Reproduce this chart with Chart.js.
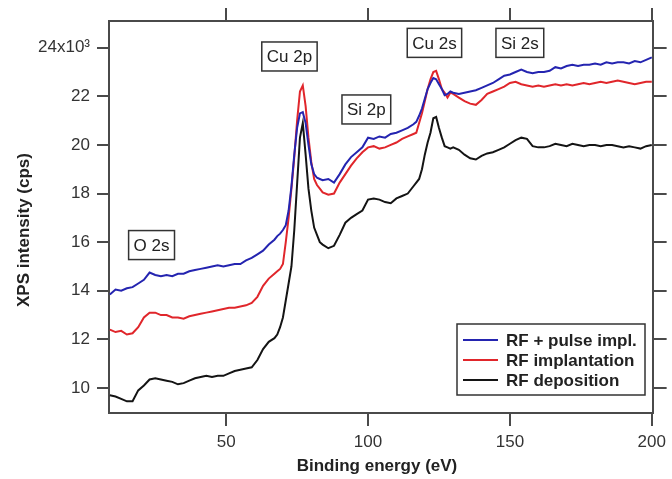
<!DOCTYPE html>
<html lang="en">
<head>
  <meta charset="UTF-8">
  <title>XPS spectra</title>
  <script src="https://cdn.jsdelivr.net/npm/chart.js"></script>
  <style>
    html, body { margin: 0; padding: 0; background: #fff; }
    #wrap { width: 672px; height: 479px; position: relative; }
  </style>
</head>
<body>
  <div id="wrap"><canvas id="xps"></canvas></div>

  <script>
    // binding energy (eV)
    const energy = [
      9, 11, 13, 15, 17, 19, 21, 23, 25, 27, 29, 31, 33, 35, 37, 39, 41, 43, 45, 47,
      49, 51, 53, 55, 57, 59, 61, 63, 65, 67,
      68, 69, 70, 71, 72, 73, 74, 75, 76, 77, 78, 79, 80, 81, 82, 83, 84,
      86, 88, 90, 92, 94, 96, 98, 100, 102, 104, 106, 108, 110, 112, 114, 116,
      117, 118, 119, 120, 121, 122, 123, 124, 125, 126, 127, 128, 129, 130,
      132, 134, 136, 138, 140, 142, 144, 146, 148, 150, 152, 154, 156, 158, 160, 162,
      164, 166, 168, 170, 172, 174, 176, 178, 180, 182, 184, 186, 188, 190, 192, 194,
      196, 198, 200
    ];

    // intensities in 10^3 cps
    const pulseImpl = [
      13.85, 14.05, 14.0, 14.1, 14.15, 14.3, 14.45, 14.75, 14.65, 14.6, 14.65, 14.6, 14.7, 14.7, 14.8, 14.85, 14.9, 14.95, 15.0, 15.05,
      15.0, 15.05, 15.1, 15.1, 15.25, 15.35, 15.5, 15.65, 15.9, 16.1,
      16.25, 16.35, 16.5, 16.7, 17.3, 18.3, 19.6, 20.7, 21.3, 21.35, 20.9, 20.0, 19.2, 18.8, 18.65, 18.6, 18.55,
      18.6, 18.45, 18.8, 19.2, 19.5, 19.7, 19.9, 20.3, 20.25, 20.35, 20.3, 20.45, 20.5, 20.6, 20.7, 20.85,
      20.95, 21.2, 21.5, 21.9, 22.3, 22.55, 22.75, 22.7, 22.5, 22.3, 22.05, 22.1, 22.2, 22.15,
      22.1, 22.15, 22.2, 22.25, 22.35, 22.45, 22.55, 22.7, 22.85, 22.9, 23.0, 23.1, 23.0, 22.95, 23.0, 23.0,
      23.05, 23.2, 23.15, 23.25, 23.3, 23.25, 23.3, 23.3, 23.35, 23.3, 23.4, 23.35, 23.4, 23.4, 23.35, 23.45,
      23.4, 23.5, 23.6
    ];
    const implantation = [
      12.4, 12.3, 12.35, 12.2, 12.25, 12.5, 12.9, 13.1, 13.1, 13.0, 13.0, 12.9, 12.9, 12.85, 12.95, 13.0, 13.05, 13.1, 13.15, 13.2,
      13.25, 13.3, 13.3, 13.35, 13.4, 13.5, 13.75, 14.2, 14.5, 14.7,
      14.8, 14.9, 15.1, 16.0, 17.0, 18.2, 19.5, 21.0, 22.2, 22.45, 21.6, 20.3, 19.3, 18.6, 18.35, 18.2, 18.05,
      17.95, 18.0, 18.45, 18.8, 19.15, 19.45, 19.7, 19.9, 19.95, 19.85, 19.9, 20.0, 20.1, 20.25, 20.35, 20.45,
      20.5, 20.9, 21.3, 21.8, 22.3, 22.7, 23.0, 23.05, 22.7, 22.3, 22.15, 21.95, 22.15, 22.1,
      21.95, 21.8, 21.7, 21.65, 21.85, 22.1, 22.2, 22.3, 22.4, 22.55, 22.6, 22.5, 22.45, 22.4, 22.45, 22.4,
      22.45, 22.5, 22.45, 22.5, 22.45, 22.5, 22.55, 22.5, 22.55, 22.6, 22.55, 22.6, 22.65, 22.6, 22.55, 22.5,
      22.55, 22.6, 22.6
    ];
    const deposition = [
      9.7, 9.65, 9.55, 9.45, 9.45, 9.9, 10.1, 10.35, 10.4, 10.35, 10.3, 10.25, 10.15, 10.2, 10.3, 10.4, 10.45, 10.5, 10.45, 10.5,
      10.5, 10.6, 10.7, 10.75, 10.8, 10.85, 11.15, 11.6, 11.9, 12.05,
      12.2, 12.5, 12.9, 13.6, 14.3, 15.0, 16.5, 18.4, 20.3, 20.9, 19.6, 18.2, 17.3, 16.6, 16.3, 16.0, 15.9,
      15.75, 15.85, 16.3, 16.8, 17.0, 17.15, 17.3, 17.75, 17.8, 17.75, 17.65, 17.6, 17.8, 17.9, 18.0, 18.3,
      18.45, 18.6, 19.0, 19.6, 20.1, 20.5, 21.1, 21.15, 20.7, 20.3, 19.95, 19.9, 19.85, 19.9,
      19.8, 19.6, 19.45, 19.4, 19.55, 19.65, 19.7, 19.8, 19.9, 20.05, 20.2, 20.3, 20.25, 19.95, 19.9, 19.9,
      19.95, 20.05, 20.0, 19.95, 20.05, 20.0, 19.95, 20.0, 20.0, 19.95, 20.0, 20.0, 19.95, 19.9, 19.95, 19.9,
      19.85, 19.95, 20.0
    ];

    const seriesNames = ['RF + pulse impl.', 'RF implantation', 'RF deposition'];
    const seriesColors = ['#2424b0', '#e0262b', '#141414'];

    const xTicks = [50, 100, 150, 200];
    const yTicks = [10, 12, 14, 16, 18, 20, 22, 24];

    // peak labels (placed in data coordinates)
    const peakLabels = ['O 2s', 'Cu 2p', 'Si 2p', 'Cu 2s', 'Si 2s'];
    const peakEnergy = [23.7, 72.3, 99.4, 123.4, 153.5];
    const peakLevel = [15.88, 23.64, 21.46, 24.2, 24.2];

    const FONT = "'Liberation Sans', Arial, sans-serif";
    const axisColor = '#4a4a4a';

    function pts(ys) {
      return energy.map((e, i) => ({ x: e, y: ys[i] }));
    }

    const allSeries = [pulseImpl, implantation, deposition];
    const datasets = allSeries.map((s, i) => ({
      label: seriesNames[i],
      data: pts(s),
      borderColor: seriesColors[i],
      borderWidth: 2,
      pointRadius: 0,
      tension: 0,
      fill: false
    }));

    const axisGrid = {
      drawOnChartArea: false,
      drawTicks: true,
      color: axisColor,
      lineWidth: 2
    };
    const axisBorder = { display: true, color: axisColor, width: 2 };

    // boxes, legend and axis titles
    const decor = {
      id: 'decor',
      afterDraw(chart) {
        const ctx = chart.ctx;
        const xs = chart.scales.x, ys = chart.scales.y;
        ctx.save();

        // peak label boxes
        ctx.font = '17px ' + FONT;
        ctx.textAlign = 'center';
        ctx.textBaseline = 'middle';
        peakLabels.forEach((t, i) => {
          const cx = xs.getPixelForValue(peakEnergy[i]);
          const cy = ys.getPixelForValue(peakLevel[i]);
          const w = ctx.measureText(t).width + 10;
          const h = 29;
          ctx.fillStyle = '#fff';
          ctx.fillRect(cx - w / 2, cy - h / 2, w, h);
          ctx.strokeStyle = '#333';
          ctx.lineWidth = 1.5;
          ctx.strokeRect(cx - w / 2, cy - h / 2, w, h);
          ctx.fillStyle = '#222';
          ctx.fillText(t, cx, cy + 1);
        });

        // legend
        const ca = chart.chartArea;
        const lx = ca.left + 348, ly = ca.top + 303, lw = 188, lh = 71;
        ctx.fillStyle = '#fff';
        ctx.fillRect(lx, ly, lw, lh);
        ctx.strokeStyle = '#333';
        ctx.lineWidth = 1.5;
        ctx.strokeRect(lx, ly, lw, lh);
        ctx.font = 'bold 17px ' + FONT;
        ctx.textAlign = 'left';
        seriesNames.forEach((n, i) => {
          const ry = ly + 16 + i * 20;
          ctx.strokeStyle = seriesColors[i];
          ctx.lineWidth = 2;
          ctx.beginPath();
          ctx.moveTo(lx + 6, ry);
          ctx.lineTo(lx + 41, ry);
          ctx.stroke();
          ctx.fillStyle = '#222';
          ctx.fillText(n, lx + 49, ry + 1);
        });

        // axis titles
        ctx.fillStyle = '#222';
        ctx.font = 'bold 17px ' + FONT;
        ctx.textAlign = 'center';
        ctx.fillText('Binding energy (eV)', 377, 466);
        ctx.translate(24, 230);
        ctx.rotate(-Math.PI / 2);
        ctx.fillText('XPS intensity (cps)', 0, 0);
        ctx.restore();
      }
    };

    new Chart(document.getElementById('xps'), {
      type: 'line',
      data: { datasets },
      options: {
        responsive: true,
        maintainAspectRatio: false,
        animation: false,
        layout: { padding: 0 },
        plugins: {
          legend: { display: false },
          tooltip: { enabled: false }
        },
        scales: {
          x: {
            type: 'linear',
            position: 'bottom',
            min: 8.7,
            max: 200.3,
            afterBuildTicks: s => { s.ticks = xTicks.map(v => ({ value: v })); },
            afterFit: s => { s.height = 66; },
            ticks: { color: '#333', font: { family: FONT, size: 17 }, padding: 6, maxRotation: 0 },
            grid: Object.assign({}, axisGrid, { tickLength: 13 }),
            border: axisBorder
          },
          xTop: {
            type: 'linear',
            position: 'top',
            min: 8.7,
            max: 200.3,
            afterBuildTicks: s => { s.ticks = xTicks.map(v => ({ value: v })); },
            afterFit: s => { s.height = 21; },
            ticks: { display: false },
            grid: Object.assign({}, axisGrid, { tickLength: 13 }),
            border: axisBorder
          },
          y: {
            type: 'linear',
            position: 'left',
            min: 8.97,
            max: 25.1,
            afterBuildTicks: s => { s.ticks = yTicks.map(v => ({ value: v })); },
            afterFit: s => { s.width = 109; },
            ticks: {
              color: '#333',
              font: { family: FONT, size: 17 },
              padding: 7,
              callback: v => (v === 24 ? '24x10³' : String(v))
            },
            grid: Object.assign({}, axisGrid, { tickLength: 12 }),
            border: axisBorder
          },
          yRight: {
            type: 'linear',
            position: 'right',
            min: 8.97,
            max: 25.1,
            afterBuildTicks: s => { s.ticks = yTicks.map(v => ({ value: v })); },
            afterFit: s => { s.width = 14; },
            ticks: { display: false },
            grid: Object.assign({}, axisGrid, { tickLength: 14 }),
            border: axisBorder
          }
        }
      },
      plugins: [decor]
    });
  </script>
</body>
</html>
